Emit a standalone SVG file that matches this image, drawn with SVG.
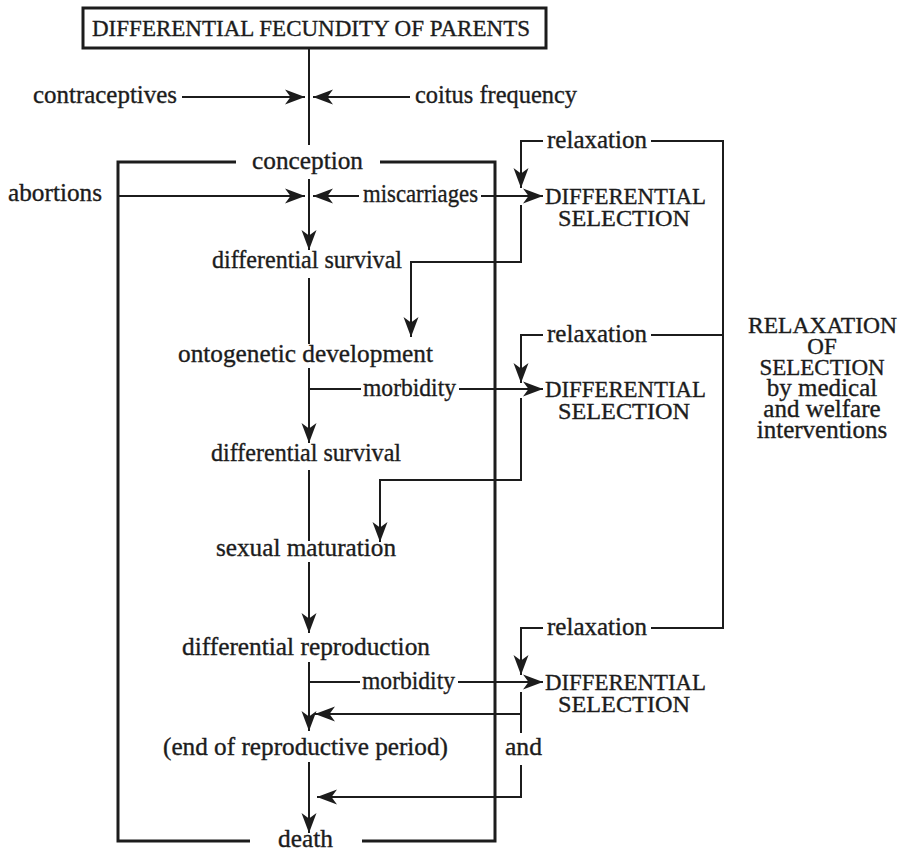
<svg xmlns="http://www.w3.org/2000/svg" width="909" height="851" viewBox="0 0 909 851">
  <style>
    .t { font-family: "Liberation Serif", "Times New Roman", serif; font-size: 25px; fill: #1c1c1c; stroke: #1c1c1c; stroke-width: 0.35; }
    .c { text-anchor: middle; }
    .caps { font-size: 23px; }
    .ln { fill: none; stroke: #1c1c1c; stroke-width: 2; }
    .box { fill: none; stroke: #1c1c1c; stroke-width: 3; }
    .arr { marker-end: url(#head); }
  </style>
  <defs>
    <marker id="head" markerUnits="userSpaceOnUse" markerWidth="22" markerHeight="18" viewBox="-21 -9 22 18" refX="0" refY="0" orient="auto">
      <path d="M0 0 L-20 -7.5 L-14.5 0 L-20 7.5 Z" fill="#1c1c1c"/>
    </marker>
  </defs>
  <rect width="909" height="851" fill="#ffffff"/>

  <!-- header box -->
  <g id="fecundity">
    <rect x="83" y="8" width="463" height="40" class="box" stroke-width="2"/>
    <text x="92" y="36" class="t caps" textLength="438" lengthAdjust="spacingAndGlyphs">DIFFERENTIAL FECUNDITY OF PARENTS</text>
  </g>

  <!-- bracket enclosing the life course -->
  <g id="life-course-frame">
    <path d="M236 162 H118 V841 H250 M362 841 H495 V162 H380" class="box"/>
  </g>

  <g id="contraceptives"><text x="33" y="103" class="t" textLength="144" lengthAdjust="spacingAndGlyphs">contraceptives</text></g>
  <g id="coitus"><text x="415" y="103" class="t" textLength="162" lengthAdjust="spacingAndGlyphs">coitus frequency</text></g>
  <g id="conception"><text x="252" y="169" class="t" textLength="111" lengthAdjust="spacingAndGlyphs">conception</text></g>
  <g id="abortions"><text x="8" y="201" class="t" textLength="94" lengthAdjust="spacingAndGlyphs">abortions</text></g>
  <g id="miscarriages"><text x="363" y="202" class="t" textLength="115" lengthAdjust="spacingAndGlyphs">miscarriages</text></g>
  <g id="survival-1"><text x="212" y="268" class="t" textLength="190" lengthAdjust="spacingAndGlyphs">differential survival</text></g>
  <g id="ontogenetic"><text x="178" y="362" class="t" textLength="255" lengthAdjust="spacingAndGlyphs">ontogenetic development</text></g>
  <g id="morbidity-1"><text x="363" y="396" class="t" textLength="93" lengthAdjust="spacingAndGlyphs">morbidity</text></g>
  <g id="survival-2"><text x="211" y="461" class="t" textLength="190" lengthAdjust="spacingAndGlyphs">differential survival</text></g>
  <g id="maturation"><text x="216" y="556" class="t" textLength="180" lengthAdjust="spacingAndGlyphs">sexual maturation</text></g>
  <g id="reproduction"><text x="182" y="655" class="t" textLength="248" lengthAdjust="spacingAndGlyphs">differential reproduction</text></g>
  <g id="morbidity-2"><text x="362" y="689" class="t" textLength="93" lengthAdjust="spacingAndGlyphs">morbidity</text></g>
  <g id="end-period"><text x="163" y="755" class="t" textLength="285" lengthAdjust="spacingAndGlyphs">(end of reproductive period)</text></g>
  <g id="and"><text x="505" y="755" class="t" textLength="37" lengthAdjust="spacingAndGlyphs">and</text></g>
  <g id="death"><text x="278" y="847" class="t" textLength="55" lengthAdjust="spacingAndGlyphs">death</text></g>

  <g id="relaxation-1"><text x="547" y="148" class="t" textLength="100" lengthAdjust="spacingAndGlyphs">relaxation</text></g>
  <g id="relaxation-2"><text x="547" y="342" class="t" textLength="100" lengthAdjust="spacingAndGlyphs">relaxation</text></g>
  <g id="relaxation-3"><text x="547" y="635" class="t" textLength="100" lengthAdjust="spacingAndGlyphs">relaxation</text></g>

  <g id="selection-1">
    <text x="545" y="204" class="t caps" textLength="161" lengthAdjust="spacingAndGlyphs">DIFFERENTIAL</text>
    <text x="558" y="226" class="t caps" textLength="132" lengthAdjust="spacingAndGlyphs">SELECTION</text>
  </g>
  <g id="selection-2">
    <text x="545" y="397" class="t caps" textLength="161" lengthAdjust="spacingAndGlyphs">DIFFERENTIAL</text>
    <text x="558" y="419" class="t caps" textLength="132" lengthAdjust="spacingAndGlyphs">SELECTION</text>
  </g>
  <g id="selection-3">
    <text x="545" y="690" class="t caps" textLength="161" lengthAdjust="spacingAndGlyphs">DIFFERENTIAL</text>
    <text x="558" y="712" class="t caps" textLength="132" lengthAdjust="spacingAndGlyphs">SELECTION</text>
  </g>

  <g id="relaxation-of-selection">
    <text x="748" y="333" class="t caps" textLength="149" lengthAdjust="spacingAndGlyphs">RELAXATION</text>
    <text x="822" y="354" class="t c caps">OF</text>
    <text x="822" y="375" class="t c caps">SELECTION</text>
    <text x="822" y="396" class="t c">by medical</text>
    <text x="822" y="417" class="t c">and welfare</text>
    <text x="822" y="438" class="t c">interventions</text>
  </g>

  <!-- connectors -->
  <g id="connectors">
    <!-- main life-course column -->
    <path d="M309 48 V145" class="ln"/>
    <path d="M182 97 H305" class="ln arr"/>
    <path d="M410 97 H313" class="ln arr"/>
    <path d="M309 179 V250" class="ln arr"/>
    <path d="M118 196 H305" class="ln arr"/>
    <path d="M359 196 H313" class="ln arr"/>
    <path d="M309 278 V344" class="ln"/>
    <path d="M309 368 V443" class="ln arr"/>
    <path d="M309 470 V541" class="ln"/>
    <path d="M309 562 V633" class="ln arr"/>
    <path d="M309 662 V731" class="ln arr"/>
    <path d="M309 762 V833" class="ln arr"/>

    <!-- losses feeding differential selection -->
    <path d="M481 196 H543" class="ln arr"/>
    <path d="M309 389 H361 M459 389 H543" class="ln"/>
    <path d="M530 389 H543" class="ln arr"/>
    <path d="M309 682 H360 M458 682 H543" class="ln"/>
    <path d="M530 682 H543" class="ln arr"/>

    <!-- relaxation feedback -->
    <path d="M651 141 H723 V628 H651 M651 335 H723" class="ln"/>
    <path d="M543 141 H521 V188" class="ln arr"/>
    <path d="M543 335 H521 V383" class="ln arr"/>
    <path d="M543 628 H521 V675" class="ln arr"/>

    <!-- selection returning to the column -->
    <path d="M521 205 V262 H411 V337" class="ln arr"/>
    <path d="M521 398 V480 H380 V542" class="ln arr"/>
    <path d="M521 692 V714 H315" class="ln arr"/>
    <path d="M521 714 V733" class="ln"/>
    <path d="M521 765 V797 H317" class="ln arr"/>
  </g>
</svg>
